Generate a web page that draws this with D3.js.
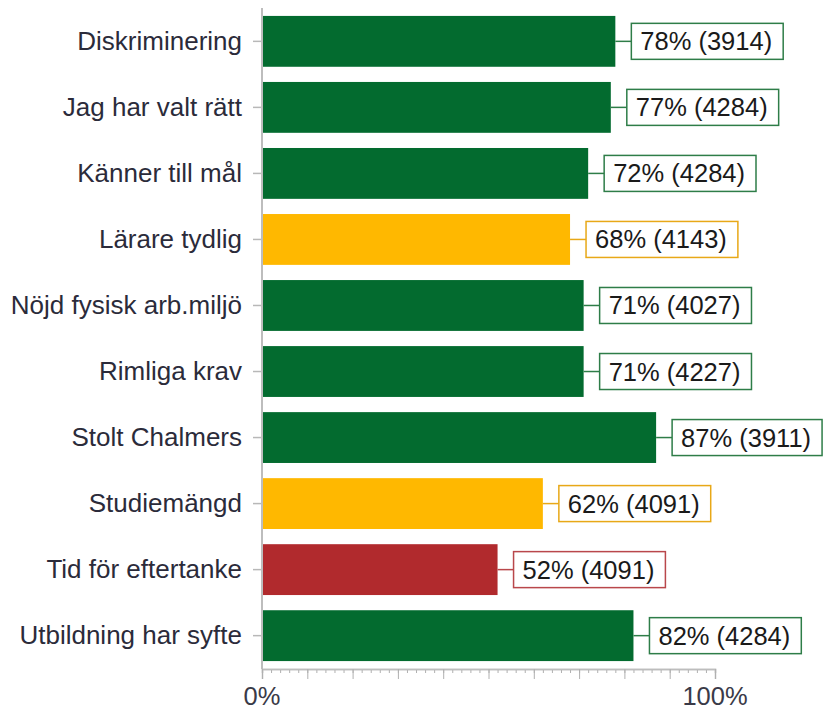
<!DOCTYPE html>
<html>
<head>
<meta charset="utf-8">
<script src="https://cdn.jsdelivr.net/npm/d3@7"></script>
<style>
    body { margin: 0; background: #fff; }
    text { font-family: "Liberation Sans", Arial, sans-serif; }
</style>
</head>
<body>
<script>
var categories = ["Diskriminering", "Jag har valt rätt", "Känner till mål", "Lärare tydlig",
    "Nöjd fysisk arb.miljö", "Rimliga krav", "Stolt Chalmers", "Studiemängd",
    "Tid för eftertanke", "Utbildning har syfte"];
var percents = [78, 77, 72, 68, 71, 71, 87, 62, 52, 82];
var counts = [3914, 4284, 4284, 4143, 4027, 4227, 3911, 4091, 4091, 4284];
var levels = ["g", "g", "g", "y", "g", "g", "g", "y", "r", "g"];
var xTickLabels = [0, 100];

window.onload = function () {
    var width = 825;
    var height = 711;
    var left = 262, right = 715, top = 8, bottom = 669;

    var fills = {g: "#036b2f", y: "#ffb800", r: "#b12a2d"};
    var strokes = {g: "#2e7d48", y: "#e8a817", r: "#b9474b"};

    var svg = d3.select("body")
        .append("svg")
        .attr("width", width)
        .attr("height", height);

    var x = d3.scaleLinear().domain([0, 100]).range([left, right]);
    var y = d3.scaleBand()
        .domain(categories)
        .range([top, bottom])
        .paddingInner(0.23)
        .paddingOuter(0.12);

    var rows = categories.map(function (c, i) {
        return {cat: c, pct: percents[i], n: counts[i], lvl: levels[i]};
    });

    // bars
    svg.selectAll("rect.bar")
        .data(rows)
        .enter()
        .append("rect")
        .attr("class", "bar")
        .attr("x", x(0))
        .attr("y", function (d) { return y(d.cat); })
        .attr("width", function (d) { return x(d.pct) - x(0); })
        .attr("height", y.bandwidth())
        .style("fill", function (d) { return fills[d.lvl]; });

    // y axis
    var yAxis = svg.append("g")
        .attr("transform", "translate(" + left + ",0)")
        .call(d3.axisLeft(y).tickSize(9).tickPadding(11));
    yAxis.select(".domain").remove();
    yAxis.selectAll(".tick line").style("stroke", "#b8b8b8").style("stroke-width", 1.5);
    yAxis.selectAll(".tick text")
        .style("font-size", "26px")
        .style("fill", "#2b2b3a")
        .style("font-family", "Liberation Sans, Arial, sans-serif");
    svg.append("line")
        .attr("x1", left).attr("x2", left)
        .attr("y1", top).attr("y2", bottom)
        .style("stroke", "#bdbdbd").style("stroke-width", 2);

    // x axis: minor ticks every 2%, major every 10%
    var xAxisG = svg.append("g").attr("transform", "translate(0," + bottom + ")");
    xAxisG.call(d3.axisBottom(x).tickValues(d3.range(0, 101, 2)).tickSize(4).tickFormat(""));
    xAxisG.append("g").call(d3.axisBottom(x).tickValues(d3.range(0, 101, 10)).tickSize(10).tickFormat(""));
    xAxisG.selectAll(".domain").style("stroke", "#bdbdbd").style("stroke-width", 1.5);
    xAxisG.selectAll(".tick line").style("stroke", "#b0b0b0");

    svg.selectAll("text.xlab")
        .data(xTickLabels)
        .enter()
        .append("text")
        .attr("class", "xlab")
        .attr("x", function (d) { return x(d); })
        .attr("y", 705)
        .attr("text-anchor", "middle")
        .style("font-size", "25.5px")
        .style("fill", "#3a3a48")
        .text(function (d) { return d + "%"; });

    // value labels with boxes
    var labels = svg.selectAll("g.lab")
        .data(rows)
        .enter()
        .append("g")
        .attr("class", "lab");

    labels.each(function (d) {
        var g = d3.select(this);
        var cy = y(d.cat) + y.bandwidth() / 2;
        var bx = x(d.pct) + 16;
        var t = g.append("text")
            .attr("x", bx + 9)
            .attr("y", cy + 9)
            .style("font-size", "25.5px")
            .style("fill", "#1a1a1a")
            .text(d.pct + "% (" + d.n + ")");
        var w = t.node().getComputedTextLength();
        g.insert("rect", "text")
            .attr("x", bx)
            .attr("y", cy - 18)
            .attr("width", w + 20)
            .attr("height", 36)
            .style("fill", "#fff")
            .style("stroke", strokes[d.lvl])
            .style("stroke-width", 1.5);
        g.insert("line", "rect")
            .attr("x1", x(d.pct)).attr("x2", bx)
            .attr("y1", cy).attr("y2", cy)
            .style("stroke", strokes[d.lvl])
            .style("stroke-width", 1.5);
    });
};
</script>
</body>
</html>
